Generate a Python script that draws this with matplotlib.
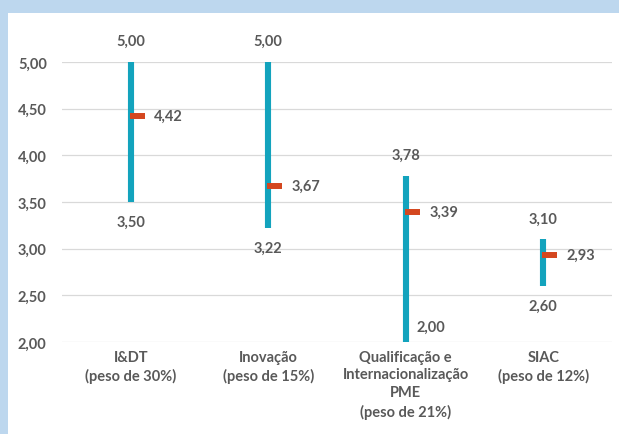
import matplotlib
matplotlib.use("Agg")
import matplotlib.pyplot as plt
from matplotlib.patches import Rectangle

# Dados por medida
categorias = ["I&DT\n(peso de 30%)",
              "Inovação\n(peso de 15%)",
              "Qualificação e\nInternacionalização\nPME\n(peso de 21%)",
              "SIAC\n(peso de 12%)"]
maximo = [5.00, 5.00, 3.78, 3.10]
minimo = [3.50, 3.22, 2.00, 2.60]
media = [4.42, 3.67, 3.39, 2.93]
yticks = [2.0, 2.5, 3.0, 3.5, 4.0, 4.5, 5.0]

COR_BARRA = "#13a3bd"
COR_MEDIA = "#d4471f"
COR_TEXTO = "#595959"
FONTE = "Lato"
TAM = 10.5


def fmt(v):
    return f"{v:.2f}".replace(".", ",")


fig = plt.figure(figsize=(6.19, 4.35), dpi=100)
fig.patch.set_facecolor("#bdd7ee")
fig.patches.append(Rectangle((8 / 619, 0), 1, 1 - 14 / 435, transform=fig.transFigure,
                             facecolor="white", edgecolor="none", zorder=-1))

ax = fig.add_axes([62 / 619, 92 / 435, 550 / 619, 280 / 435])
ax.set_facecolor("none")
ax.set_zorder(1)
x = list(range(len(categorias)))

# Barras min-max e traço da média
ax.vlines(x, minimo, maximo, colors=COR_BARRA, linewidth=4.4, zorder=3)
ax.hlines(media, [xi - 0.008 for xi in x], [xi + 0.102 for xi in x],
          colors=COR_MEDIA, linewidth=4.3, zorder=4)

txt = dict(color=COR_TEXTO, fontsize=TAM, fontweight="bold", family=FONTE)
offset_min = [(0, -14.5), (0, -14.5), (18, 11), (0, -14.5)]
for i, xi in enumerate(x):
    ax.annotate(fmt(maximo[i]), (xi, maximo[i]), xytext=(0, 15), textcoords="offset points",
                ha="center", va="center", **txt)
    ax.annotate(fmt(minimo[i]), (xi, minimo[i]), xytext=offset_min[i], textcoords="offset points",
                ha="center", va="center", **txt)
    ax.annotate(fmt(media[i]), (xi, media[i]), xytext=(17, 0), textcoords="offset points",
                ha="left", va="center", **txt)

ax.set_xlim(-0.5, len(categorias) - 0.5)
ax.set_ylim(2.0, 5.0)
ax.set_yticks(yticks)
ax.set_yticklabels([fmt(v) for v in yticks], **txt)
ax.set_xticks(x)
ax.set_xticklabels(categorias, linespacing=1.35, **txt)
ax.tick_params(axis="y", length=0, pad=11)
ax.tick_params(axis="x", length=0, pad=5.5)
ax.grid(axis="y", color="#d9d9d9", linewidth=0.9)
ax.set_axisbelow(True)
for s in ax.spines.values():
    s.set_visible(False)

fig.savefig("out.png", dpi=100, facecolor=fig.get_facecolor())
